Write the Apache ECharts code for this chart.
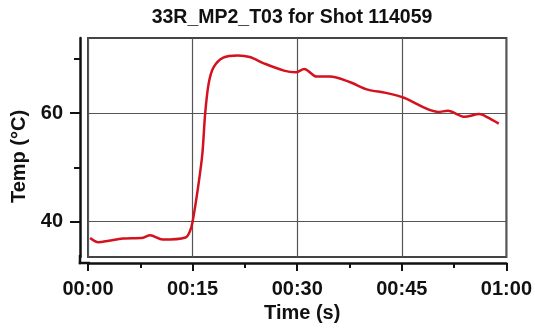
<!DOCTYPE html>
<html>
<head>
<meta charset="utf-8">
<script src="https://cdn.jsdelivr.net/npm/echarts@6/dist/echarts.min.js"></script>
<style>
html,body{margin:0;padding:0;background:#fff;}
#chart{width:535px;height:333px;}
</style>
</head>
<body>
<div id="chart"></div>
<script>
// Chart data
var titleText = '33R_MP2_T03 for Shot 114059';
var xName = 'Time (s)';
var yName = 'Temp (°C)';
var timeSec = [0.3, 1.5, 3.0, 5.0, 7.9, 8.9, 10.7, 14.0, 14.6, 15.0, 15.8, 16.4, 16.8, 17.3, 18.0, 19.4, 21.5, 23.2, 25.3, 28.1, 29.8, 31.0, 32.8, 34.7, 37.5, 40.1, 42.7, 45.3, 50.2, 51.6, 54.0, 56.1, 57.3, 58.9];
var tempC = [37.0, 36.2, 36.5, 36.9, 37.05, 37.5, 36.7, 37.1, 38.2, 40.0, 46.5, 52.5, 59.9, 65.4, 68.4, 70.2, 70.6, 70.3, 69.1, 67.8, 67.5, 68.1, 66.7, 66.7, 65.7, 64.3, 63.7, 62.8, 60.2, 60.4, 59.3, 59.8, 59.2, 58.05];
var yMajorTicks = [40, 60];
var yMinorTicks = [50, 70];
var xMin = 0, xMax = 60, xStep = 15;
var yMin = 33.5, yMax = 73.8;

var seriesData = timeSec.map(function (t, i) { return [t, tempC[i]]; });
function fmtTime(v) {
  var m = Math.floor(v / 60), s = Math.round(v % 60);
  return String(m).padStart(2, '0') + ':' + String(s).padStart(2, '0');
}

var FONT = 'Liberation Sans';
var chart = echarts.init(document.getElementById('chart'), null, {renderer: 'canvas'});
chart.setOption({
  animation: false,
  backgroundColor: '#ffffff',
  textStyle: {fontFamily: FONT},
  title: {
    text: titleText,
    left: 292,
    textAlign: 'center',
    top: 8,
    padding: 0,
    textStyle: {fontFamily: FONT, fontSize: 19.5, fontWeight: 'bold', color: '#111'}
  },
  grid: {
    left: 88, right: 23, top: 38, bottom: 76,
    show: true, borderColor: '#444', borderWidth: 2, backgroundColor: 'transparent'
  },
  xAxis: {
    type: 'value', min: xMin, max: xMax, interval: xStep,
    offset: 6,
    name: xName, nameLocation: 'middle', nameGap: 38,
    nameTextStyle: {fontFamily: FONT, fontSize: 20, fontWeight: 'bold', color: '#111', padding: [0, 0, 0, 10]},
    axisLine: {show: true, onZero: false, lineStyle: {color: '#111', width: 2.5}},
    axisTick: {show: true, length: 8, lineStyle: {color: '#111', width: 2}},
    minorTick: {show: true, splitNumber: 2, length: 5, lineStyle: {color: '#111', width: 2}},
    splitLine: {show: true, lineStyle: {color: '#555', width: 1.2}},
    minorSplitLine: {show: false},
    axisLabel: {margin: 16, fontFamily: FONT, fontSize: 20, fontWeight: 'bold', color: '#111', formatter: fmtTime}
  },
  yAxis: [{
    type: 'value', min: yMin, max: yMax,
    position: 'left', offset: 8,
    name: yName, nameLocation: 'middle', nameGap: 42, nameRotate: 90,
    nameTextStyle: {fontFamily: FONT, fontSize: 20, fontWeight: 'bold', color: '#111', padding: [0, 18, 0, 0]},
    axisLine: {show: true, onZero: false, lineStyle: {color: '#111', width: 2.5}},
    axisTick: {show: true, length: 10, customValues: yMajorTicks, lineStyle: {color: '#111', width: 2}},
    axisLabel: {margin: 17, customValues: yMajorTicks, fontFamily: FONT, fontSize: 20, fontWeight: 'bold', color: '#111'},
    splitLine: {show: true, lineStyle: {color: '#555', width: 1.2}}
  }, {
    type: 'value', min: yMin, max: yMax,
    position: 'left', offset: 8,
    axisLine: {show: false, onZero: false},
    axisTick: {show: true, length: 6, customValues: yMinorTicks, lineStyle: {color: '#111', width: 2}},
    axisLabel: {show: false},
    splitLine: {show: false}
  }],
  graphic: [
    {type: 'line', shape: {x1: 80, y1: 255, x2: 80, y2: 264.2}, style: {stroke: '#111', lineWidth: 2.5}, silent: true},
    {type: 'line', shape: {x1: 78.8, y1: 263, x2: 90, y2: 263}, style: {stroke: '#111', lineWidth: 2.5}, silent: true}
  ],
  series: [{
    type: 'line',
    data: seriesData,
    yAxisIndex: 0,
    showSymbol: false,
    smooth: 0.3,
    lineStyle: {color: '#d4111e', width: 2.5},
    clip: true
  }]
});
</script>
</body>
</html>
